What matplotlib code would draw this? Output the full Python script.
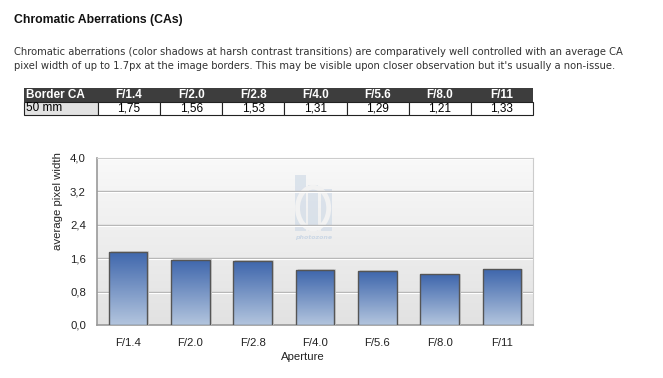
import numpy as np
import matplotlib
matplotlib.use("Agg")
import matplotlib.pyplot as plt
from matplotlib.patches import Rectangle, Ellipse

# --- data ---
apertures = ["F/1.4", "F/2.0", "F/2.8", "F/4.0", "F/5.6", "F/8.0", "F/11"]
ca_50mm = [1.75, 1.56, 1.53, 1.31, 1.29, 1.21, 1.33]
yticks = [0.0, 0.8, 1.6, 2.4, 3.2, 4.0]
ytick_labels = ["0,0", "0,8", "1,6", "2,4", "3,2", "4,0"]

title = "Chromatic Aberrations (CAs)"
para = ["Chromatic aberrations (color shadows at harsh contrast transitions) are comparatively well controlled with an average CA",
        "pixel width of up to 1.7px at the image borders. This may be visible upon closer observation but it's usually a non-issue."]

W, H = 663, 378
fig = plt.figure(figsize=(W / 100, H / 100), dpi=100)
fig.patch.set_facecolor("white")

def fx(px):
    return px / W

def fy(py):
    return 1 - py / H

# --- heading and text ---
fig.text(fx(14), fy(20), title, fontsize=8.8, fontweight="bold", family="Liberation Sans",
         color="#111111", va="center", ha="left")
for i, line in enumerate(para):
    fig.text(fx(14), fy(52 + 14 * i), line, fontsize=7.2, family="DejaVu Sans",
             color="#333333", va="center", ha="left")

# --- table ---
tl, t0, first_w = 24, 88, 74
tab_right = 533
ncols = len(apertures)
cell_w = (tab_right - tl - first_w) / ncols
rh = 13.5
fs_tab = 8.5
fig.patches.append(Rectangle((fx(tl), fy(t0 + rh)), fx(tab_right - tl), rh / H,
                             transform=fig.transFigure, facecolor="#3d3d3d", edgecolor="none"))
fig.text(fx(tl + 2), fy(t0 + rh / 2), "Border CA", fontsize=fs_tab, fontweight="bold",
         family="Liberation Sans", color="white", va="center", ha="left")
fig.patches.append(Rectangle((fx(tl), fy(t0 + 2 * rh)), fx(first_w), rh / H,
                             transform=fig.transFigure, facecolor="#e2e2e2", edgecolor="#222222", lw=0.8))
fig.text(fx(tl + 2), fy(t0 + 1.5 * rh), "50 mm", fontsize=fs_tab, family="Liberation Sans",
         color="black", va="center", ha="left")
for i, (ap, v) in enumerate(zip(apertures, ca_50mm)):
    x0 = tl + first_w + i * cell_w
    fig.text(fx(x0 + cell_w / 2), fy(t0 + rh / 2), ap, fontsize=fs_tab, fontweight="bold",
             family="Liberation Sans", color="white", va="center", ha="center")
    fig.patches.append(Rectangle((fx(x0), fy(t0 + 2 * rh)), fx(cell_w), rh / H,
                                 transform=fig.transFigure, facecolor="white",
                                 edgecolor="#222222", lw=0.8))
    fig.text(fx(x0 + cell_w / 2), fy(t0 + 1.5 * rh), f"{v:.2f}".replace(".", ","),
             fontsize=fs_tab, family="Liberation Sans", color="black", va="center", ha="center")

# --- chart ---
ax = fig.add_axes([fx(97), fy(325), fx(533 - 97), (325 - 158) / H])
x = np.arange(len(apertures))
xmin, xmax = -0.5, len(apertures) - 0.5

bg = np.linspace(0, 1, 256).reshape(-1, 1)
ax.imshow(bg, extent=(xmin, xmax, 0, 4.0), aspect="auto",
          cmap=matplotlib.colors.LinearSegmentedColormap.from_list("bg", ["#e2e2e2", "#f9f9f9"]),
          origin="lower", zorder=0)

# watermark (photozone logo)
wm = "#cbd7e5"
ax.add_patch(Rectangle((2.68, 2.25), 0.17, 1.35, facecolor=wm, edgecolor="none", alpha=0.6, zorder=1))
ax.add_patch(Rectangle((2.89, 2.25), 0.16, 1.1, facecolor=wm, edgecolor="none", alpha=0.6, zorder=1))
ax.add_patch(Rectangle((3.09, 2.25), 0.18, 1.0, facecolor=wm, edgecolor="none", alpha=0.6, zorder=1))
ax.add_patch(Ellipse((2.97, 2.8), 0.5, 1.0, facecolor="none", edgecolor="#f2f2f2", lw=3.5, zorder=1))
ax.text(2.97, 2.1, "photozone", fontsize=4.5, color=wm, ha="center", va="center",
        fontweight="bold", style="italic", zorder=1)

for yv in yticks[1:]:
    ax.axhline(yv, color="#b4b4b4", lw=1.0, zorder=2)
    ax.axhline(yv - 0.025, color="white", lw=0.8, zorder=2)

bar_cmap = matplotlib.colors.LinearSegmentedColormap.from_list("bar", ["#b3c5de", "#3e66ac"])
bars = ax.bar(x, ca_50mm, width=0.62, facecolor="none", edgecolor="#555555", lw=1.0, zorder=4)
for b in bars:
    x0, y0 = b.get_x(), b.get_y()
    # soft shadow
    ax.add_patch(Rectangle((x0 + 0.03, y0), b.get_width(), b.get_height() + 0.02,
                           facecolor="#d0d0d0", edgecolor="none", zorder=3))
    im = ax.imshow(bg, extent=(x0, x0 + b.get_width(), y0, y0 + b.get_height()),
                   aspect="auto", cmap=bar_cmap, origin="lower", zorder=3.5)
    im.set_clip_path(b)

ax.set_xlim(xmin, xmax)
ax.set_ylim(0, 4.0)
ax.set_xticks(x)
ax.set_xticklabels(apertures, family="Liberation Sans", fontsize=8.2, color="#222222")
ax.set_yticks(yticks)
ax.set_yticklabels(ytick_labels, family="Liberation Sans", fontsize=8.2, color="#222222")
ax.tick_params(axis="both", length=0, pad=9)
ax.tick_params(axis="y", pad=8)
for s in ["top", "right"]:
    ax.spines[s].set_color("#cccccc")
for s in ["left", "bottom"]:
    ax.spines[s].set_color("#999999")
    ax.spines[s].set_linewidth(1.2)

fig.text(fx(303), fy(357), "Aperture", family="Liberation Sans", fontsize=8.2,
         color="#222222", ha="center", va="center")
fig.text(fx(58), fy(201), "average pixel width", family="Liberation Sans", fontsize=8.2,
         color="#222222", ha="center", va="center", rotation=90)

fig.savefig("out.png", dpi=100)
